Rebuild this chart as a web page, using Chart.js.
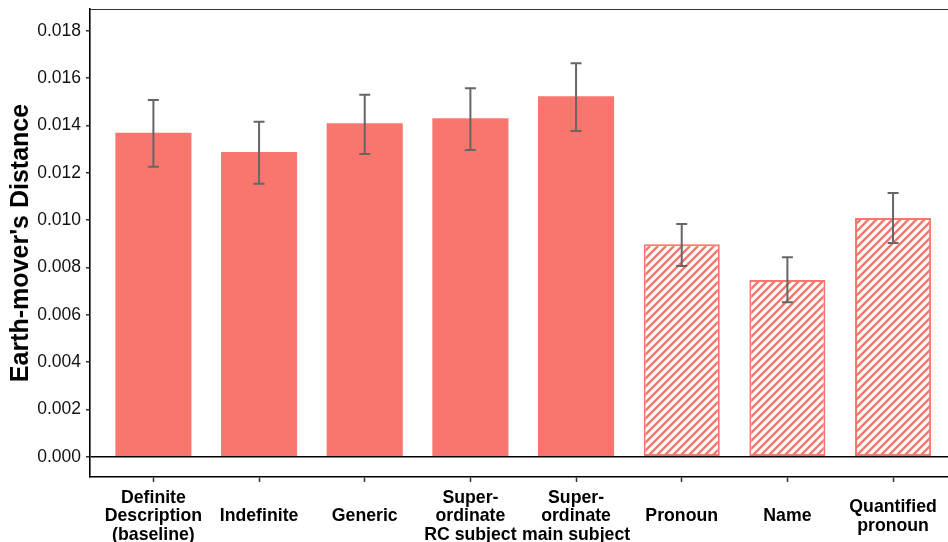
<!DOCTYPE html>
<html>
<head>
<meta charset="utf-8">
<script src="https://cdn.jsdelivr.net/npm/chart.js@4/dist/chart.umd.min.js"></script>
<style>
  html, body { margin: 0; padding: 0; background: #fff; overflow: hidden; }
  #c { display: block; }
</style>
</head>
<body>
<canvas id="c" width="948" height="542"></canvas>
<script>
// Referring-expression types (multi-line tick labels)
const categories = [
  ["Definite", "Description", "(baseline)"],
  ["Indefinite"],
  ["Generic"],
  ["Super-", "ordinate", "RC subject"],
  ["Super-", "ordinate", "main subject"],
  ["Pronoun"],
  ["Name"],
  ["Quantified", "pronoun"]
];

// Mean earth-mover's distance per type
const emd = [0.01369, 0.012875, 0.014087, 0.014298, 0.015228, 0.008975, 0.007466, 0.010086];

// Error bar limits
const errLow  = [0.012253, 0.011535, 0.012790, 0.012959, 0.013762, 0.008057, 0.006524, 0.009030];
const errHigh = [0.015072, 0.014155, 0.015296, 0.015567, 0.016622, 0.009832, 0.008425, 0.011142];

// Which types are drawn with a hatched fill
const hatched = [false, false, false, false, false, true, true, true];

// Y axis tick values
const yTicks = [0, 0.002, 0.004, 0.006, 0.008, 0.010, 0.012, 0.014, 0.016, 0.018];

const RED = '#F8766D';
const FONT = '"Liberation Sans", Arial, Helvetica, sans-serif';

const canvas = document.getElementById('c');
const ctx2d = canvas.getContext('2d');

function stripePattern(color) {
  const s = 8;
  const t = document.createElement('canvas');
  t.width = s; t.height = s;
  const g = t.getContext('2d');
  g.fillStyle = '#fff';
  g.fillRect(0, 0, s, s);
  g.strokeStyle = color;
  g.lineWidth = 2.4;
  g.beginPath();
  g.moveTo(0, s); g.lineTo(s, 0);
  g.moveTo(-s / 2, s / 2); g.lineTo(s / 2, -s / 2);
  g.moveTo(s / 2, s * 1.5); g.lineTo(s * 1.5, s / 2);
  g.stroke();
  return ctx2d.createPattern(t, 'repeat');
}
const stripes = stripePattern(RED);

// Error bars and the top panel line
const extras = {
  id: 'extras',
  afterDatasetsDraw(chart) {
    const { ctx, scales: { x, y }, chartArea } = chart;
    ctx.save();
    ctx.strokeStyle = '#666666';
    ctx.lineWidth = 2;
    const cap = 5.5;
    for (let i = 0; i < emd.length; i++) {
      const px = x.getPixelForValue(i);
      const lo = y.getPixelForValue(errLow[i]);
      const hi = y.getPixelForValue(errHigh[i]);
      ctx.beginPath();
      ctx.moveTo(px, lo); ctx.lineTo(px, hi);
      ctx.moveTo(px - cap, lo); ctx.lineTo(px + cap, lo);
      ctx.moveTo(px - cap, hi); ctx.lineTo(px + cap, hi);
      ctx.stroke();
    }
    ctx.strokeStyle = '#333333';
    ctx.lineWidth = 1.2;
    ctx.beginPath();
    ctx.moveTo(chartArea.left, chartArea.top + 0.5);
    ctx.lineTo(chartArea.right, chartArea.top + 0.5);
    ctx.stroke();
    ctx.restore();
  }
};

new Chart(canvas, {
  type: 'bar',
  data: {
    datasets: [{
      data: emd.map((v, i) => ({ x: i, y: v })),
      backgroundColor: hatched.map(h => h ? stripes : RED),
      borderColor: RED,
      borderWidth: hatched.map(h => h ? 2 : 0),
      borderSkipped: false,
      categoryPercentage: 1,
      barPercentage: 0.72
    }]
  },
  options: {
    responsive: false,
    devicePixelRatio: 1,
    animation: false,
    layout: { padding: { top: 9, right: 0, bottom: 0, left: 0 } },
    plugins: { legend: { display: false }, tooltip: { enabled: false } },
    scales: {
      x: {
        type: 'linear',
        offset: false,
        min: -0.6,
        max: 7.52,
        afterBuildTicks(scale) { scale.ticks = categories.map((_, i) => ({ value: i })); },
        afterFit(scale) {
          scale.height = 65;
          scale.paddingLeft = 0;
          scale.paddingRight = 0;
        },
        ticks: {
          autoSkip: false,
          maxRotation: 0,
          minRotation: 0,
          crossAlign: 'center',
          padding: 16,
          color: '#000',
          font: { family: FONT, size: 17.7, weight: 'bold', lineHeight: 1.05 },
          callback: (v) => categories[v]
        },
        grid: { offset: false, color: 'transparent', tickColor: '#333', tickLength: 5, tickWidth: 1.5 },
        border: { display: true, color: '#000', width: 1.6 }
      },
      y: {
        min: -0.000858,
        max: 0.018917,
        afterBuildTicks(scale) { scale.ticks = yTicks.map(v => ({ value: v })); },
        afterFit(scale) {
          scale.width = 90;
          scale.paddingTop = 0;
          scale.paddingBottom = 0;
        },
        ticks: {
          padding: 5,
          color: '#111',
          font: { family: FONT, size: 17.5 },
          callback: (v) => v.toFixed(3)
        },
        grid: {
          color: (c) => (c.tick && c.tick.value === 0 ? '#000' : 'transparent'),
          lineWidth: 1.6,
          tickColor: '#333',
          tickLength: 4,
          tickWidth: 1.5
        },
        border: { display: true, color: '#000', width: 1.6 },
        title: {
          display: true,
          text: "Earth-mover's Distance",
          color: '#000',
          font: { family: FONT, size: 25, weight: 'bold' },
          padding: { top: 6, bottom: 0 }
        }
      }
    }
  },
  plugins: [extras]
});
</script>
</body>
</html>
